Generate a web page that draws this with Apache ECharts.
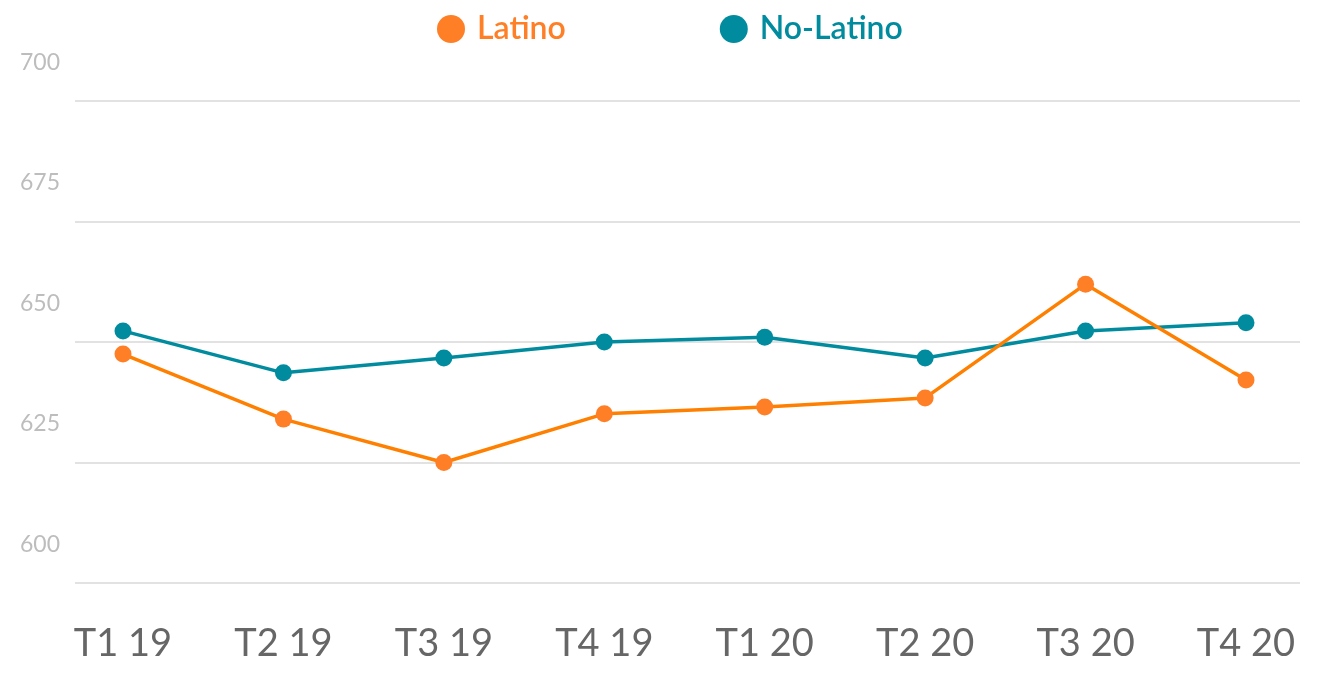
<!DOCTYPE html>
<html>
<head>
<meta charset="utf-8">
<script src="https://cdn.jsdelivr.net/npm/echarts@6/dist/echarts.min.js"></script>
<style>
html,body{margin:0;padding:0;background:#fff;}
#chart{width:1320px;height:676px;}
</style>
</head>
<body>
<div id="chart"></div>
<script>
const categories = ['T1 19','T2 19','T3 19','T4 19','T1 20','T2 20','T3 20','T4 20'];
const latino = [647.5, 634.0, 625.0, 635.1, 636.5, 638.4, 662.0, 642.1];
const noLatino = [652.3, 643.6, 646.7, 650.0, 651.0, 646.7, 652.3, 654.0];
const yTicks = [600, 625, 650, 675, 700];
const seriesNames = ['Latino', 'No-Latino'];
const colors = ['#FF7F27', '#008C9E'];

const FONT = 'Lato, "Noto Sans", sans-serif';
const chart = echarts.init(document.getElementById('chart'));
chart.setOption({
  animation: false,
  legend: {
    left: 432, top: 8,
    icon: 'circle', itemWidth: 28, itemHeight: 28, itemGap: 154,
    data: seriesNames.map((n, i) => ({name: n, textStyle: {color: colors[i]}})),
    textStyle: {fontFamily: FONT, fontSize: 32, fontWeight: 600, padding: [0,0,0,7], letterSpacing: 0.6}
  },
  grid: [
    {left: 75, right: 20, top: 101, bottom: 93},
    {left: 123, right: 74, top: 101, bottom: 93}
  ],
  xAxis: [
    {gridIndex: 0, type: 'value', show: false, min: 0, max: 1},
    {gridIndex: 1, type: 'category', data: categories, boundaryGap: false,
     axisLine: {show: false}, axisTick: {show: false}, splitLine: {show: false},
     axisLabel: {color: '#666666', fontFamily: FONT, fontSize: 38, margin: 42}}
  ],
  yAxis: [
    {gridIndex: 0, type: 'value', min: yTicks[0], max: yTicks[yTicks.length-1], interval: 25,
     axisLine: {show: false}, axisTick: {show: false},
     splitLine: {lineStyle: {color: '#E2E2E2', width: 2}},
     axisLabel: {color: '#BDBDBD', fontFamily: FONT, fontSize: 23, align: 'left', margin: 55,
                 verticalAlign: 'bottom', padding: [0,0,27,0]}},
    {gridIndex: 1, type: 'value', min: yTicks[0], max: yTicks[yTicks.length-1], interval: 25, show: false}
  ],
  series: [
    {name: seriesNames[0], type: 'line', xAxisIndex: 1, yAxisIndex: 1, data: latino,
     color: colors[0], symbol: 'circle', symbolSize: 17,
     lineStyle: {width: 3.5, color: '#FF8000'}, itemStyle: {color: colors[0]}, z: 3},
    {name: seriesNames[1], type: 'line', xAxisIndex: 1, yAxisIndex: 1, data: noLatino,
     color: colors[1], symbol: 'circle', symbolSize: 17,
     lineStyle: {width: 3.5, color: colors[1]}, itemStyle: {color: colors[1]}, z: 2}
  ]
});
</script>
</body>
</html>
